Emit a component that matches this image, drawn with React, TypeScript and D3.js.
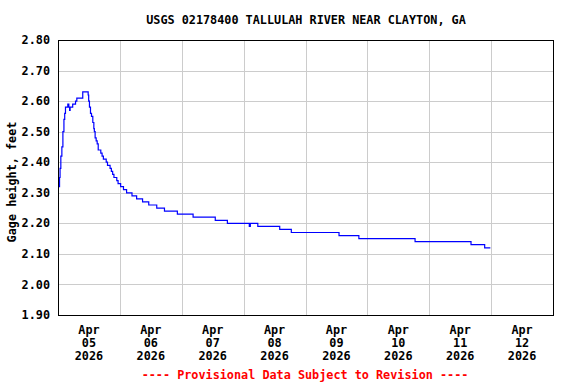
import React from 'react';
import * as d3 from 'd3';

const title = 'USGS 02178400 TALLULAH RIVER NEAR CLAYTON, GA';
const yLabel = 'Gage height, feet';
const footer = '---- Provisional Data Subject to Revision ----';

// hours after Apr 05 2026 00:00, and the gage reading from that time on
const hours = [
  0, 0.6, 0.8, 1.1, 1.5, 1.9, 2.3, 2.6, 2.9, 3.8, 4.2, 4.5, 4.7, 5.7, 6.8, 7.3,
  9.6, 11.7, 11.9, 12.2, 12.6, 13.0, 13.5, 13.9, 14.1, 14.4, 14.8, 15.2, 15.6,
  16.6, 17.1, 17.6, 18.7, 19.2, 20.2, 20.7, 21.2, 21.7, 22.8, 23.3, 24.3, 25.4,
  26.6, 28.7, 30.5, 32.8, 35.2, 38.3, 41.3, 46.3, 52.4, 61.0, 65.7, 74.2, 74.6,
  77.5, 86.0, 90.5, 109.0, 116.7, 138.5, 160.2, 165.5, 167.7,
];
const gage = [
  2.32, 2.35, 2.38, 2.42, 2.45, 2.5, 2.54, 2.56, 2.58, 2.59, 2.58, 2.57, 2.58,
  2.59, 2.6, 2.61, 2.63, 2.62, 2.6, 2.58, 2.56, 2.55, 2.53, 2.51, 2.5, 2.48,
  2.47, 2.46, 2.44, 2.43, 2.42, 2.41, 2.4, 2.39, 2.38, 2.37, 2.36, 2.35, 2.34,
  2.33, 2.32, 2.31, 2.3, 2.29, 2.28, 2.27, 2.26, 2.25, 2.24, 2.23, 2.22, 2.21,
  2.2, 2.19, 2.2, 2.19, 2.18, 2.17, 2.16, 2.15, 2.14, 2.13, 2.12, 2.12,
];
const dayLabels = ['05', '06', '07', '08', '09', '10', '11', '12'];
const yTicks = [1.9, 2.0, 2.1, 2.2, 2.3, 2.4, 2.5, 2.6, 2.7, 2.8];

const start = new Date(2026, 3, 5);
const hourMs = 3600 * 1000;

const App = () => {
  const width = 576,
    height = 384;
  const margin = { top: 40, right: 23, bottom: 69, left: 58 };

  const x = d3
    .scaleTime()
    .domain([start, new Date(2026, 3, 13)])
    .range([margin.left, width - margin.right]);
  const y = d3
    .scaleLinear()
    .domain([1.9, 2.8])
    .range([height - margin.bottom, margin.top]);

  const data = hours.map((h, i) => ({
    date: new Date(start.getTime() + h * hourMs),
    value: gage[i],
  }));

  const line = d3
    .line<{ date: Date; value: number }>()
    .x((d) => x(d.date))
    .y((d) => y(d.value))
    .curve(d3.curveStepAfter);

  const days = d3.timeDay.range(start, new Date(2026, 3, 14));
  const font = "'DejaVu Sans Mono', monospace";

  return (
    <svg
      width={width}
      height={height}
      style={{ position: 'absolute', left: 0, top: 0, background: '#fff' }}
      fontFamily={font}
      fontWeight="bold"
      fontSize={11.8}
    >
      <text x={306} y={24} textAnchor="middle" fill="#000">
        {title}
      </text>

      <g shapeRendering="crispEdges">
        {yTicks.map((t) => (
          <line
            key={'h' + t}
            x1={x.range()[0]}
            x2={x.range()[1]}
            y1={Math.round(y(t)) + 0.5}
            y2={Math.round(y(t)) + 0.5}
            stroke="#cccccc"
          />
        ))}
        {days.map((d, i) => (
          <line
            key={'v' + i}
            x1={Math.round(x(d)) + 0.5}
            x2={Math.round(x(d)) + 0.5}
            y1={y.range()[1]}
            y2={y.range()[0]}
            stroke="#cccccc"
          />
        ))}
      </g>

      <path
        d={line(data) || ''}
        fill="none"
        stroke="#0000ff"
        strokeWidth={1.2}
      />

      <rect
        x={margin.left + 0.5}
        y={margin.top + 0.5}
        width={width - margin.left - margin.right}
        height={height - margin.top - margin.bottom}
        fill="none"
        stroke="#000"
        shapeRendering="crispEdges"
      />

      {yTicks.map((t) => (
        <text
          key={'yl' + t}
          x={50}
          y={y(t)}
          dy="0.35em"
          textAnchor="end"
          fill="#000"
        >
          {t.toFixed(2)}
        </text>
      ))}

      <text
        transform={`translate(16,182) rotate(-90)`}
        textAnchor="middle"
        fill="#000"
      >
        {yLabel}
      </text>

      {dayLabels.map((lbl, i) => {
        const cx = x(new Date(start.getTime() + (i * 24 + 12) * hourMs));
        return (
          <text key={'d' + lbl} x={cx} textAnchor="middle" fill="#000">
            <tspan x={cx} y={334}>
              Apr
            </tspan>
            <tspan x={cx} y={347}>
              {lbl}
            </tspan>
            <tspan x={cx} y={360}>
              2026
            </tspan>
          </text>
        );
      })}

      <text x={305} y={379} textAnchor="middle" fill="#ff0000">
        {footer}
      </text>
    </svg>
  );
};

export default App;
